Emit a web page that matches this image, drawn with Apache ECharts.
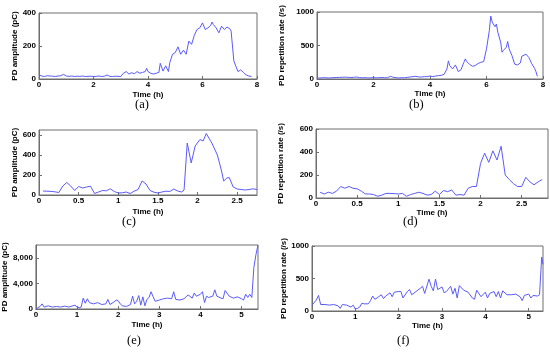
<!DOCTYPE html>
<html><head><meta charset="utf-8">
<script src="https://cdn.jsdelivr.net/npm/echarts@6/dist/echarts.min.js"></script>
<style>html,body{margin:0;padding:0;background:#fff}#c{width:550px;height:352px}</style>
</head><body><div id="c"></div>
<script>
// ---- Data ----
const timeA = [0,0.1,0.2,0.3,0.4,0.5,0.6,0.7,0.8,0.9,1.0,1.1,1.2,1.3,1.4,1.5,1.6,1.7,1.8,1.9,2.0,2.1,2.2,2.3,2.4,2.5,2.6,2.7,2.8,2.9,3.0,3.1,3.2,3.3,3.4,3.5,3.6,3.7,3.8,3.9,3.95,4.0,4.1,4.2,4.3,4.4,4.45,4.55,4.65,4.75,4.8,4.9,5.0,5.1,5.2,5.3,5.4,5.5,5.6,5.7,5.8,5.9,6.0,6.1,6.2,6.3,6.35,6.4,6.5,6.6,6.7,6.8,6.9,7.0,7.05,7.1,7.15,7.2,7.3,7.4,7.45,7.5,7.6,7.7,7.8];
const ampA  = [25,18,15,20,18,17,15,18,20,28,18,16,18,15,17,16,18,15,16,17,15,16,18,15,17,24,16,15,17,16,15,35,45,30,38,32,45,35,40,45,65,45,35,30,35,40,95,48,80,45,100,150,160,195,150,175,150,230,210,265,300,310,340,300,310,325,345,330,310,280,320,300,315,305,290,200,110,115,45,55,60,40,25,18,15];

const timeB = [0,0.1,0.2,0.3,0.4,0.5,0.6,0.7,0.8,0.9,1.0,1.1,1.2,1.3,1.4,1.5,1.6,1.7,1.8,1.9,2.0,2.1,2.2,2.3,2.4,2.5,2.6,2.7,2.8,2.9,3.0,3.1,3.2,3.3,3.4,3.5,3.6,3.7,3.8,3.9,4.0,4.1,4.2,4.3,4.4,4.5,4.6,4.65,4.7,4.8,4.9,5.0,5.1,5.2,5.25,5.3,5.4,5.5,5.6,5.7,5.8,5.9,6.0,6.1,6.15,6.2,6.3,6.35,6.4,6.5,6.55,6.6,6.7,6.75,6.8,6.9,7.0,7.1,7.2,7.25,7.4,7.5,7.6,7.7,7.75,7.8];
const rateB = [15,15,18,20,15,18,20,22,25,25,28,25,22,25,30,20,18,20,15,18,20,18,20,22,18,20,40,25,20,15,20,18,25,30,35,40,30,30,35,35,45,35,45,50,55,70,150,270,200,150,210,110,140,250,300,260,220,190,200,230,250,260,450,720,940,850,780,820,700,550,400,430,470,560,450,350,220,210,240,340,370,320,230,160,110,40];

const timeC = [0.05,0.1,0.15,0.2,0.25,0.3,0.35,0.4,0.45,0.5,0.55,0.6,0.65,0.7,0.75,0.8,0.85,0.9,0.95,1.0,1.05,1.1,1.15,1.2,1.25,1.3,1.35,1.4,1.45,1.5,1.55,1.6,1.65,1.7,1.75,1.8,1.83,1.87,1.92,1.97,2.03,2.07,2.11,2.18,2.25,2.3,2.33,2.37,2.4,2.45,2.5,2.55,2.6,2.65,2.7,2.75];
const ampC  = [40,38,36,32,25,90,125,90,45,85,70,80,88,15,30,45,42,62,35,20,22,30,15,38,55,140,110,45,28,20,30,38,35,60,40,30,50,520,320,490,555,540,615,520,400,250,140,170,175,80,60,55,50,55,62,55];

const timeD = [0.05,0.1,0.15,0.2,0.25,0.3,0.35,0.4,0.45,0.5,0.55,0.6,0.65,0.7,0.75,0.8,0.85,0.9,0.95,1.0,1.05,1.1,1.15,1.2,1.25,1.3,1.35,1.4,1.45,1.5,1.55,1.6,1.65,1.7,1.75,1.8,1.85,1.9,1.95,2.0,2.05,2.1,2.15,2.2,2.25,2.3,2.35,2.4,2.45,2.5,2.55,2.6,2.65,2.7,2.75];
const rateD = [50,35,50,40,60,100,85,100,85,80,60,35,35,30,15,25,40,40,38,35,40,15,30,40,50,40,25,30,60,30,65,55,70,25,30,25,85,100,100,300,390,310,410,330,450,200,160,125,100,100,180,140,115,140,160];

const timeE = [0,0.05,0.1,0.15,0.2,0.3,0.4,0.5,0.6,0.7,0.8,0.9,0.95,1.0,1.05,1.1,1.15,1.2,1.25,1.3,1.4,1.5,1.6,1.7,1.75,1.8,1.9,1.95,2.0,2.05,2.1,2.2,2.3,2.35,2.4,2.45,2.5,2.55,2.6,2.65,2.7,2.75,2.8,2.85,2.9,3.0,3.1,3.2,3.3,3.35,3.4,3.5,3.6,3.7,3.8,3.85,3.9,4.0,4.05,4.1,4.15,4.2,4.3,4.35,4.4,4.5,4.55,4.6,4.7,4.8,4.9,5.0,5.05,5.1,5.15,5.2,5.25,5.3,5.35,5.4];
const ampE  = [0,200,400,800,300,500,300,400,300,450,300,500,600,300,200,300,1700,900,1600,1000,800,1000,700,800,1500,700,1100,1400,1300,800,500,400,700,2000,800,1200,2100,600,1900,500,1500,1800,2700,1900,1200,1400,1600,1700,1600,2700,1500,1400,1600,2200,1700,2500,2000,2300,2700,1000,2000,1800,2000,3000,2000,1700,1600,2900,2000,1700,1900,1600,1400,2300,1800,2300,1800,6500,8500,10000];

const timeF = [0,0.1,0.15,0.2,0.3,0.4,0.5,0.6,0.65,0.7,0.8,0.9,0.95,1.0,1.05,1.1,1.15,1.2,1.3,1.35,1.4,1.45,1.5,1.6,1.65,1.7,1.8,1.85,1.9,2.0,2.05,2.1,2.2,2.25,2.3,2.4,2.5,2.55,2.6,2.7,2.75,2.8,2.85,2.9,3.0,3.05,3.1,3.2,3.25,3.3,3.35,3.4,3.5,3.6,3.7,3.75,3.8,3.9,4.0,4.05,4.1,4.2,4.25,4.3,4.35,4.4,4.5,4.6,4.7,4.8,4.85,4.9,5.0,5.05,5.1,5.2,5.25,5.3,5.33];
const rateF = [90,170,240,100,100,90,100,80,40,100,90,60,90,30,40,60,120,110,110,160,230,180,200,250,190,230,280,220,290,300,300,200,300,330,250,300,350,380,270,490,380,310,490,330,370,280,300,380,260,350,200,390,320,290,200,180,320,220,290,200,270,300,220,300,200,310,250,250,260,220,160,240,260,200,240,230,250,830,720];

const yNames = ['PD amplitude (pC)','PD repetition rate (/s)','PD amplitude (pC)','PD repetition rate (/s)','PD amplitude (pC)','PD repetition rate (/s)'];
const xName = 'Time (h)';
const captions = ['(a)','(b)','(c)','(d)','(e)','(f)'];
const yTicksA = [0,200,400], yTicksB = [0,500,1000], yTicksC = [0,200,400,600], yTicksD = [0,200,400,600], yTicksE = [0,4000,8000], yTicksF = [0,500,1000];
const xTicksAB = [0,2,4,6,8], xTicksCD = [0,0.5,1,1.5,2,2.5], xTicksEF = [0,1,2,3,4,5];

// ---- Layout ----
const panels = [
  {t:timeA,v:ampA, g:{left:39,top:13,width:218,height:66}, xmax:8, ymax:400, xt:xTicksAB, yt:yTicksA, yGap:19, xGap:12, cap:[145,106], comma:false},
  {t:timeB,v:rateB,g:{left:317,top:12,width:226,height:67}, xmax:8, ymax:1000, xt:xTicksAB, yt:yTicksB, yGap:31, xGap:8.5, cap:[419,106], comma:false},
  {t:timeC,v:ampC, g:{left:39,top:130,width:218,height:65}, xmax:2.75, ymax:650, xt:xTicksCD, yt:yTicksC, yGap:19, xGap:13, cap:[132,223], comma:false},
  {t:timeD,v:rateD,g:{left:316,top:129,width:232,height:69}, xmax:2.82, ymax:600, xt:xTicksCD, yt:yTicksD, yGap:31, xGap:11, cap:[413,223], comma:false},
  {t:timeE,v:ampE, g:{left:35,top:245,width:223,height:64}, xmax:5.4, ymax:10000, xt:xTicksEF, yt:yTicksE, yGap:24, xGap:12, cap:[137,342], comma:true},
  {t:timeF,v:rateF,g:{left:312,top:246,width:231,height:65}, xmax:5.33, ymax:1000, xt:xTicksEF, yt:yTicksF, yGap:21, xGap:11, cap:[407,342], comma:false}
];

const FONT = 'Liberation Sans, Arial, sans-serif';
const labelStyle = {color:'#000', fontFamily:FONT, fontSize:8, fontWeight:'bold'};
const frame = '#6e6e6e';

const grid=[], xAxis=[], yAxis=[], series=[], graphic=[];
panels.forEach((p,i)=>{
  grid.push(Object.assign({show:true, borderColor:frame, borderWidth:1, containLabel:false}, p.g));
  xAxis.push({type:'value', gridIndex:i, min:0, max:p.xmax,
    name:xName, nameLocation:'middle', nameGap:p.xGap, nameTextStyle:labelStyle,
    axisLine:{show:true, lineStyle:{color:frame}},
    axisTick:{show:true, inside:true, length:3, customValues:p.xt, lineStyle:{color:frame}},
    axisLabel:Object.assign({margin:2, customValues:p.xt, formatter:v=>String(v)}, labelStyle),
    splitLine:{show:false}});
  yAxis.push({type:'value', gridIndex:i, min:0, max:p.ymax,
    name:yNames[i], nameLocation:'middle', nameGap:p.yGap, nameRotate:90, nameTextStyle:labelStyle,
    axisLine:{show:true, lineStyle:{color:frame}},
    axisTick:{show:true, inside:true, length:3, customValues:p.yt, lineStyle:{color:frame}},
    axisLabel:Object.assign({margin:3, customValues:p.yt, formatter:v=>p.comma ? v.toLocaleString('en-US') : String(v)}, labelStyle),
    splitLine:{show:false}});
  series.push({type:'line', xAxisIndex:i, yAxisIndex:i, data:p.t.map((t,k)=>[t,p.v[k]]),
    symbol:'none', lineStyle:{color:'#5a5aff', width:1}, animation:false});
  graphic.push({type:'text', left:p.cap[0]-10, top:p.cap[1]-8,
    style:{text:captions[i], font:'12.5px "Liberation Serif", "Times New Roman", serif', fill:'#000'}});
});

const chart = echarts.init(document.getElementById('c'), null, {renderer:'canvas'});
chart.setOption({animation:false, backgroundColor:'#fff', grid, xAxis, yAxis, series, graphic});
</script></body></html>
